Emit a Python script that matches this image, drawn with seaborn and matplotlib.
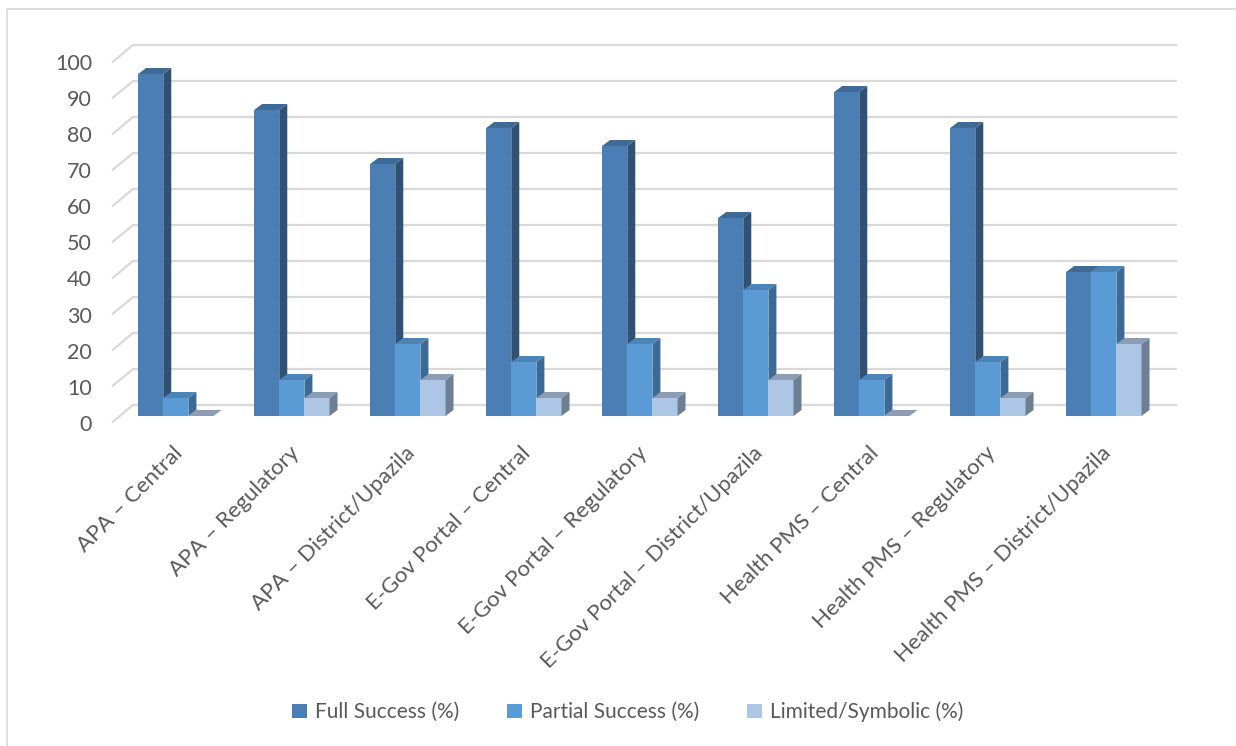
import numpy as np
import pandas as pd
import matplotlib
matplotlib.use("Agg")
import matplotlib.pyplot as plt
import seaborn as sns
from matplotlib.patches import Polygon, Rectangle
from matplotlib.lines import Line2D
from matplotlib.transforms import ScaledTranslation

# ---------------- data ----------------
categories = [
    "APA – Central",
    "APA – Regulatory",
    "APA – District/Upazila",
    "E-Gov Portal – Central",
    "E-Gov Portal – Regulatory",
    "E-Gov Portal – District/Upazila",
    "Health PMS – Central",
    "Health PMS – Regulatory",
    "Health PMS – District/Upazila",
]
full_success = [95, 85, 70, 80, 75, 55, 90, 80, 40]
partial_success = [5, 10, 20, 15, 20, 35, 10, 15, 40]
limited_symbolic = [0, 5, 10, 5, 5, 10, 0, 5, 20]
series_names = ["Full Success (%)", "Partial Success (%)", "Limited/Symbolic (%)"]
y_ticks = list(range(0, 101, 10))

# ---------------- style ----------------
front_colors = ["#4A7EB4", "#5B9BD5", "#ADC6E6"]
top_colors = ["#3E6A98", "#4C84B8", "#8A9DB4"]
side_colors = ["#2F5274", "#3B6A96", "#6D7F95"]
text_color = "#595959"
grid_color = "#D9D9D9"

sns.set_theme(style="white")
plt.rcParams["font.family"] = ["Lato", "DejaVu Sans"]

W, H, DPI = 1236, 746, 100
fig = plt.figure(figsize=(W / DPI, H / DPI), dpi=DPI)
fig.patch.set_facecolor("white")

# axes = the "data plane" in pixels
ax_l, ax_r, ax_b, ax_t = 119, 1163, 416, 56
ax = fig.add_axes([ax_l / W, 1 - ax_b / H, (ax_r - ax_l) / W, (ax_b - ax_t) / H])

df = pd.DataFrame({"Category": categories,
                   series_names[0]: full_success,
                   series_names[1]: partial_success,
                   series_names[2]: limited_symbolic})
long_df = df.melt(id_vars="Category", var_name="Series", value_name="Value")

sns.barplot(data=long_df, x="Category", y="Value", hue="Series",
            hue_order=series_names, order=categories,
            palette=front_colors, saturation=1, width=0.65,
            linewidth=0, ax=ax)

ax.set_xlim(-0.49, 8.51)
ax.set_ylim(0, 100)
ax.set_xlabel("")
ax.set_ylabel("")
for s in ax.spines.values():
    s.set_visible(False)
ax.grid(False)
ax.patch.set_alpha(0)

# pixel -> data unit conversion
p0 = ax.transData.transform((0, 0))
p1 = ax.transData.transform((1, 1))
pxx = p1[0] - p0[0]
pxy = p1[1] - p0[1]

# --- back wall gridlines with perspective diagonal ---
xl, xr = ax.get_xlim()
f_dx, f_dy = -7 / pxx, -6.5 / pxy      # front plane offset
b_dx, b_dy = 14 / pxx, 11 / pxy        # back wall offset
for v in y_ticks:
    ax.add_line(Line2D([xl + f_dx, xl + b_dx, xr + b_dx],
                       [v + f_dy, v + b_dy, v + b_dy],
                       color=grid_color, lw=1.6, zorder=1, clip_on=False,
                       solid_capstyle="butt"))

# --- 3D faces for bars ---
bdx, bdy = 8 / pxx, 6 / pxy
bars = []
for k, cont in enumerate(ax.containers):
    for bar in cont:
        bars.append((bar.get_x(), k, bar))
bars.sort(key=lambda t: t[0])
for i, (x0, k, bar) in enumerate(bars):
    z = 10 + 3 * i
    bar.set_zorder(z)
    w = bar.get_width()
    h = bar.get_height()
    top = Polygon([(x0, h), (x0 + w, h), (x0 + w + bdx, h + bdy), (x0 + bdx, h + bdy)],
                  closed=True, facecolor=top_colors[k], edgecolor="none",
                  zorder=z + 1, clip_on=False)
    side = Polygon([(x0 + w, 0), (x0 + w + bdx, bdy), (x0 + w + bdx, h + bdy), (x0 + w, h)],
                   closed=True, facecolor=side_colors[k], edgecolor="none",
                   zorder=z + 1, clip_on=False)
    ax.add_patch(side)
    ax.add_patch(top)

# --- ticks ---
ax.set_yticks(y_ticks)
ax.set_yticklabels([str(v) for v in y_ticks])
ax.tick_params(axis="y", length=0, pad=27 * 0.72, labelsize=15.5, labelcolor=text_color)
ax.set_xticks(range(len(categories)))
ax.set_xticklabels(categories, rotation=45, ha="right", va="center",
                   rotation_mode="anchor")
ax.tick_params(axis="x", length=0, pad=34 * 0.72, labelsize=16, labelcolor=text_color)

off_y = ScaledTranslation(0, -6.5 / DPI, fig.dpi_scale_trans)
for lab in ax.get_yticklabels():
    lab.set_transform(lab.get_transform() + off_y)
off_x = ScaledTranslation(4 / DPI, 0, fig.dpi_scale_trans)
for lab in ax.get_xticklabels():
    lab.set_transform(lab.get_transform() + off_x)

# --- legend ---
handles, labels = ax.get_legend_handles_labels()
if ax.get_legend() is not None:
    ax.get_legend().remove()
fig.legend(handles, labels, loc="center", bbox_to_anchor=(628 / W, 1 - 712 / H),
           ncol=3, frameon=False, fontsize=15, handlelength=0.7, handleheight=0.7,
           handletextpad=0.4, columnspacing=2.3, labelcolor=text_color)

# --- chart border ---
fig.patches.append(Rectangle((7 / W, -0.1), 1.2, 1.1 - 9 / H, transform=fig.transFigure,
                             fill=False, edgecolor=grid_color, lw=1.2))

fig.savefig("out.png", dpi=DPI)
